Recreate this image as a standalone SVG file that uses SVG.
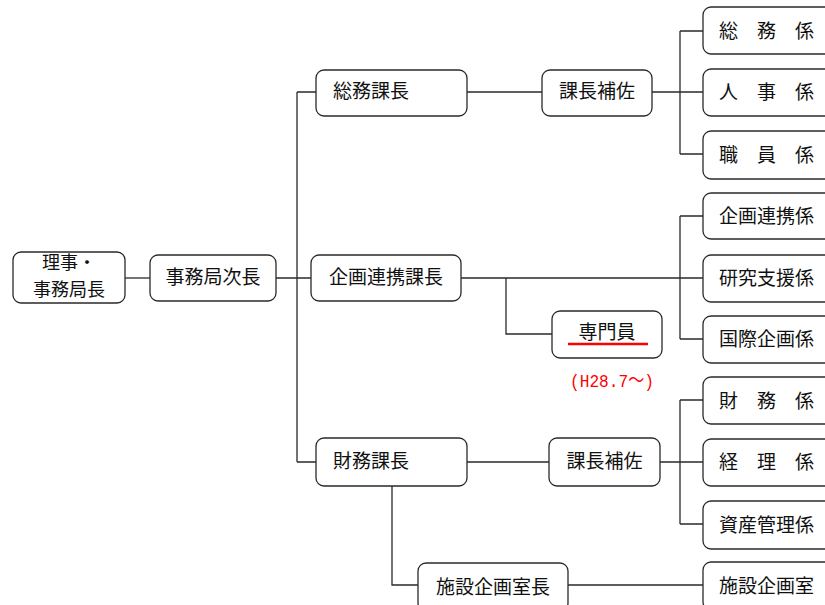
<svg xmlns="http://www.w3.org/2000/svg" width="825" height="605" viewBox="0 0 825 605">
<style>
.box{fill:#fff;stroke:#2a2a2a;stroke-width:1.3}
.t{font-family:"Noto Sans CJK JP","Noto Sans CJK SC",sans-serif;font-size:19px;fill:#111}
.c{text-anchor:middle}
.s{font-size:18px}
.ln{fill:none;stroke:#2a2a2a;stroke-width:1.3}
.red{font-family:"Liberation Mono","Noto Sans CJK JP",monospace;font-size:19px;fill:#ff0000}
</style>
<rect width="825" height="605" fill="#fff"/>
<g id="connectors" class="ln">
<path d="M125,278 H150"/>
<path d="M276,278 H311"/>
<path d="M297,92 V462 M297,92 H316 M297,462 H316"/>
<path d="M467,92 H542 M652,92 H703 M680,31 V154 M680,31 H703 M680,154 H703"/>
<path d="M461,278 H703 M680,216 V339 M680,216 H703 M680,339 H703"/>
<path d="M506,278 V334 H552"/>
<path d="M467,462 H549 M660,462 H703 M680,400 V524 M680,400 H703 M680,524 H703"/>
<path d="M392,486 V585 H418 M568,585 H703"/>
</g>
<g id="n_rijichou"><rect class="box" x="13" y="252" width="112" height="51" rx="8"/><text class="t c s" x="69" y="268.5">理事・</text><text class="t c s" x="69" y="295.5">事務局長</text></g>
<g id="n_jichou"><rect class="box" x="150" y="255" width="126" height="46" rx="8"/><text class="t c" x="213" y="284">事務局次長</text></g>
<g id="n_soumukachou"><rect class="box" x="316" y="70" width="151" height="46" rx="8"/><text class="t" x="333" y="98">総務課長</text></g>
<g id="n_hosa1"><rect class="box" x="542" y="70" width="110" height="46" rx="8"/><text class="t c" x="597" y="98">課長補佐</text></g>
<g id="n_soumukakari"><rect class="box" x="703" y="7" width="140" height="47" rx="8"/><text class="t" x="719" y="38">総　務　係</text></g>
<g id="n_jinji"><rect class="box" x="703" y="69" width="140" height="47" rx="8"/><text class="t" x="719" y="99">人　事　係</text></g>
<g id="n_shokuin"><rect class="box" x="703" y="131" width="140" height="48" rx="8"/><text class="t" x="719" y="162">職　員　係</text></g>
<g id="n_kikakukachou"><rect class="box" x="311" y="255" width="150" height="46" rx="8"/><text class="t c" x="386" y="284">企画連携課長</text></g>
<g id="n_kikakukakari"><rect class="box" x="703" y="193" width="140" height="46" rx="8"/><text class="t" x="719" y="223">企画連携係</text></g>
<g id="n_kenkyu"><rect class="box" x="703" y="255" width="140" height="47" rx="8"/><text class="t" x="719" y="285">研究支援係</text></g>
<g id="n_kokusai"><rect class="box" x="703" y="316" width="140" height="47" rx="8"/><text class="t" x="719" y="346">国際企画係</text></g>
<g id="n_senmon"><rect class="box" x="552" y="311" width="110" height="47" rx="8"/><text class="t c" x="607" y="339">専門員</text><line x1="568" y1="344" x2="648" y2="344" stroke="#ff0000" stroke-width="2.5"/><text class="red" x="570" y="387" textLength="84" lengthAdjust="spacingAndGlyphs">(H28.7～)</text></g>
<g id="n_zaimukachou"><rect class="box" x="316" y="438" width="151" height="48" rx="8"/><text class="t" x="333" y="468">財務課長</text></g>
<g id="n_hosa2"><rect class="box" x="549" y="438" width="111" height="48" rx="8"/><text class="t c" x="604.5" y="468">課長補佐</text></g>
<g id="n_zaimukakari"><rect class="box" x="703" y="377" width="140" height="47" rx="8"/><text class="t" x="719" y="408">財　務　係</text></g>
<g id="n_keiri"><rect class="box" x="703" y="439" width="140" height="47" rx="8"/><text class="t" x="719" y="469">経　理　係</text></g>
<g id="n_shisan"><rect class="box" x="703" y="501" width="140" height="48" rx="8"/><text class="t" x="719" y="532">資産管理係</text></g>
<g id="n_shisetsuchou"><rect class="box" x="418" y="563" width="150" height="48" rx="8"/><text class="t c" x="493" y="594">施設企画室長</text></g>
<g id="n_shisetsu"><rect class="box" x="703" y="562" width="140" height="48" rx="8"/><text class="t" x="719" y="593">施設企画室</text></g>
</svg>
